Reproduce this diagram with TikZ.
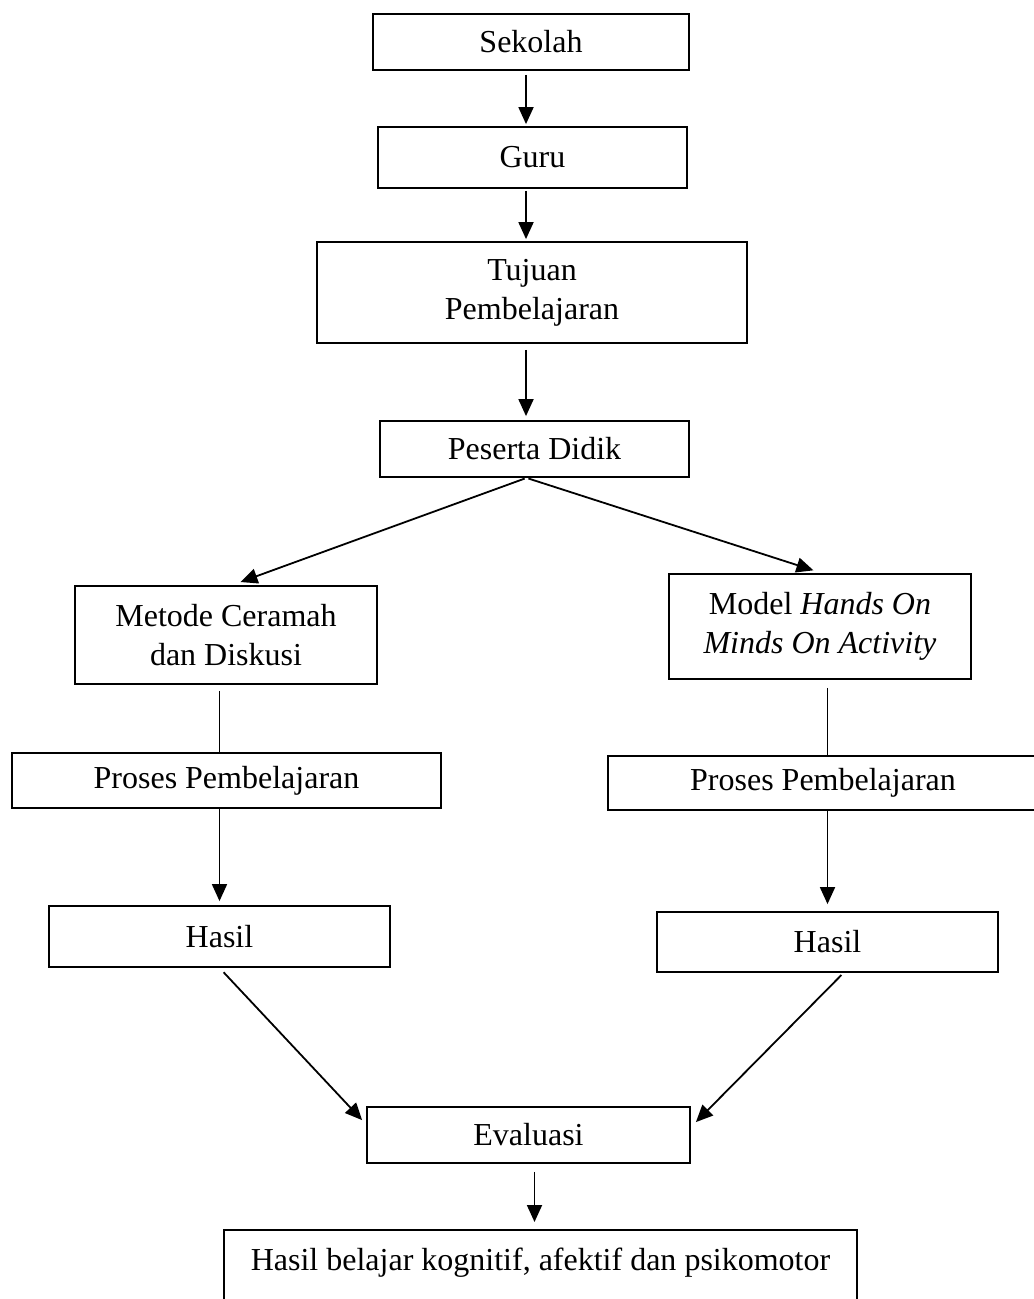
\documentclass[tikz,border=0pt]{standalone}
\usepackage{fontspec}
\setmainfont{Liberation Serif}
\usetikzlibrary{arrows.meta}
\begin{document}
\begin{tikzpicture}[
		x=0.5pt,y=-0.5pt,
		box/.style={draw,line width=0.9pt,inner sep=0pt,align=center,font=\fontsize{16}{19.5}\selectfont},
		arr/.style={-{Triangle[length=8.5pt,width=7.5pt]},line width=0.9pt},
		link/.style={line width=0.9pt}
	]
	\useasboundingbox (0,0) rectangle (1033,1299);
	\node[box,minimum width=158pt,minimum height=28pt] (sekolah) at (531,42) {Sekolah};
	\node[box,minimum width=154.5pt,minimum height=30.5pt] (guru) at (532.5,157.5) {Guru};
	\node[box,minimum width=215pt,minimum height=50.5pt] (tujuan) at (532,292.5) {Tujuan\\Pembelajaran};
	\node[box,minimum width=154.5pt,minimum height=28pt] (peserta) at (534.5,449) {Peserta Didik};
	\node[box,minimum width=151pt,minimum height=49pt] (metode) at (226,635) {Metode Ceramah\\dan Diskusi};
	\node[box,minimum width=151pt,minimum height=52.5pt] (model) at (820,626.5) {Model \textit{Hands On}\\\textit{Minds On Activity}};
	\node[box,minimum width=214.5pt,minimum height=27.5pt] (prosesL) at (226.5,780.5) {Proses Pembelajaran};
	\node[box,minimum width=215pt,minimum height=27pt] (prosesR) at (823,783) {Proses Pembelajaran};
	\node[box,minimum width=170.5pt,minimum height=30.5pt] (hasilL) at (219.5,936.5) {Hasil};
	\node[box,minimum width=170.5pt,minimum height=30pt] (hasilR) at (827.5,942) {Hasil};
	\node[box,minimum width=161.5pt,minimum height=28pt] (evaluasi) at (528.5,1135) {Evaluasi};
	\node[box,minimum width=316.5pt,inner ysep=9.5pt,text height=11pt,text depth=40pt,anchor=north] (hasilbelajar) at (540.5,1229) {Hasil belajar kognitif, afektif dan psikomotor};

	\draw[arr,shorten <=2pt,shorten >=1pt] ([xshift=-2.5pt]sekolah.south) -- ([xshift=-2.5pt]sekolah.south |- guru.north);
	\draw[arr,shorten <=1pt,shorten >=1pt] ([xshift=-2.5pt]sekolah.south |- guru.south) -- ([xshift=-2.5pt]sekolah.south |- tujuan.north);
	\draw[arr,shorten <=3pt,shorten >=2pt] ([xshift=-2.5pt]sekolah.south |- tujuan.south) -- ([xshift=-2.5pt]sekolah.south |- peserta.north);
	\draw[arr,shorten <=1pt,shorten >=4.5pt] ([xshift=-4pt]peserta.south) -- ([xshift=3pt]metode.north);
	\draw[arr,shorten <=1pt,shorten >=4.5pt] ([xshift=-4pt]peserta.south) -- ([xshift=1pt]model.north);
	\draw[link,shorten <=3pt] (metode.south -| hasilL.north) -- (prosesL.north -| hasilL.north);
	\draw[link,shorten <=4pt] (model.south -| hasilR.north) -- (prosesR.north -| hasilR.north);
	\draw[arr,shorten >=2pt] (prosesL.south -| hasilL.north) -- (hasilL.north);
	\draw[arr,shorten >=3.5pt] (prosesR.south -| hasilR.north) -- (hasilR.north);
	\draw[arr,shorten <=3pt] (hasilL.south) -- ([xshift=-2pt,yshift=-7pt]evaluasi.north west);
	\draw[arr,shorten <=1.5pt] ([xshift=8pt]hasilR.south) -- ([xshift=2.5pt,yshift=-8pt]evaluasi.north east);
	\draw[arr,shorten <=4pt,shorten >=3.5pt] ([xshift=3pt]evaluasi.south) -- ([xshift=3pt]evaluasi.south |- hasilbelajar.north);
\end{tikzpicture}
\end{document}
